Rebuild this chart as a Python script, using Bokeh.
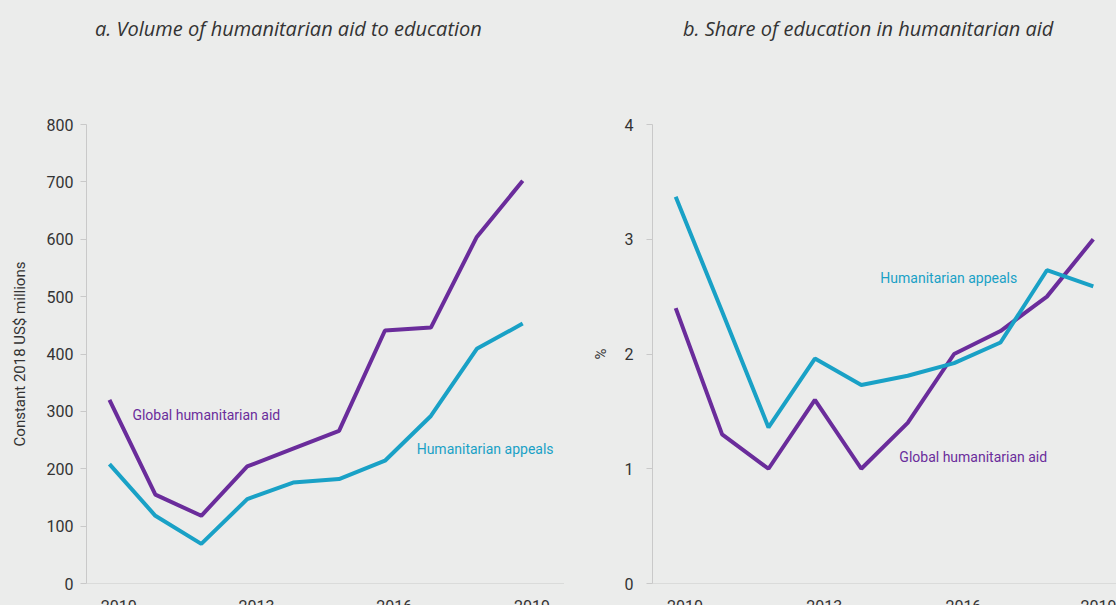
from bokeh.plotting import figure
from bokeh.layouts import row, column
from bokeh.models import Range1d, FixedTicker, Label, Div
from bokeh.embed import file_html
from bokeh.resources import INLINE

years = [2010, 2011, 2012, 2013, 2014, 2015, 2016, 2017, 2018, 2019]
vol_global = [320, 155, 118, 204, 235, 266, 441, 446, 604, 702]
vol_appeals = [208, 118, 69, 147, 176, 182, 214, 292, 409, 453]
share_global = [2.4, 1.3, 1.0, 1.6, 1.0, 1.4, 2.0, 2.2, 2.5, 3.0]
share_appeals = [3.37, 2.37, 1.36, 1.96, 1.73, 1.81, 1.92, 2.1, 2.73, 2.59]
year_ticks = [2010, 2013, 2016, 2019]
vol_ticks = [0, 100, 200, 300, 400, 500, 600, 700, 800]
share_ticks = [0, 1, 2, 3, 4]

BG = "#ebeceb"
PURPLE = "#6a2c9b"
CYAN = "#19a1c6"
AXIS = "#c9c9c9"
TXT = "#333333"
FONT = "Roboto"
TFONT = "Open Sans"
HEAD = 84
H = 605 - HEAD

def title_div(width, text, pad_left):
    html = ('<div style="padding:10px 0 0 %dpx; margin:0; font-family:\'Open Sans\'; '
            'font-style:italic; font-size:20px; line-height:27px; color:%s; '
            'white-space:nowrap;">%s</div>' % (pad_left, TXT, text))
    return Div(text=html, width=width, height=HEAD, styles={"background-color": BG})

def make(width, left, ymax, yticks, ylabel, xend, tick_standoff, label_standoff):
    p = figure(width=width, height=H, output_backend="svg", toolbar_location=None,
               x_range=Range1d(years[0] - 0.5, xend), y_range=Range1d(0, ymax),
               min_border_left=left, min_border_right=0, min_border_top=114 - HEAD,
               min_border_bottom=32)
    p.background_fill_color = BG
    p.border_fill_color = BG
    p.outline_line_color = None
    p.grid.visible = False
    p.title.visible = False
    xa = p.xaxis[0]
    # label positions shifted slightly right of the data year, as in the original
    xa.ticker = FixedTicker(ticks=[y + 0.2 for y in year_ticks])
    xa.major_label_overrides = {y + 0.2: str(y) for y in year_ticks}
    xa.major_tick_line_color = None
    xa.minor_tick_line_color = None
    xa.axis_line_color = None
    xa.major_label_text_font = FONT
    xa.major_label_text_font_size = "16px"
    xa.major_label_text_color = TXT
    xa.major_label_standoff = 10
    # baseline drawn across the year span
    p.segment(x0=[years[0] - 0.5], y0=[0], x1=[xend], y1=[0], line_color=AXIS, line_width=1)
    ya = p.yaxis[0]
    ya.ticker = FixedTicker(ticks=yticks)
    ya.major_tick_out = 6
    ya.major_tick_in = 0
    ya.major_tick_line_color = AXIS
    ya.minor_tick_line_color = None
    ya.axis_line_color = AXIS
    ya.major_label_text_font = FONT
    ya.major_label_text_font_size = "16px"
    ya.major_label_text_color = TXT
    ya.major_label_standoff = tick_standoff
    ya.axis_label = ylabel
    ya.axis_label_text_font = FONT
    ya.axis_label_text_font_style = "normal"
    ya.axis_label_text_font_size = "15px"
    ya.axis_label_text_color = TXT
    ya.axis_label_standoff = label_standoff
    return p

p1 = make(564, 86, 800, vol_ticks, "Constant 2018 US$ millions", 2019.91, 7, 15)
p1.line(years, vol_global, line_color=PURPLE, line_width=4)
p1.line(years, vol_appeals, line_color=CYAN, line_width=4)
p1.add_layout(Label(x=2010.5, y=294, text="Global humanitarian aid", text_color=PURPLE,
                    text_font=FONT, text_font_size="14px", text_baseline="middle"))
p1.add_layout(Label(x=2016.69, y=235, text="Humanitarian appeals", text_color=CYAN,
                    text_font=FONT, text_font_size="14px", text_baseline="middle"))

p2 = make(552, 88, 4, share_ticks, "%", 2019.5, 13, 12)
p2.line(years, share_global, line_color=PURPLE, line_width=4)
p2.line(years, share_appeals, line_color=CYAN, line_width=4)
p2.add_layout(Label(x=2014.41, y=2.66, text="Humanitarian appeals", text_color=CYAN,
                    text_font=FONT, text_font_size="14px", text_baseline="middle"))
p2.add_layout(Label(x=2014.82, y=1.1, text="Global humanitarian aid", text_color=PURPLE,
                    text_font=FONT, text_font_size="14px", text_baseline="middle"))

t1 = title_div(564, "a. Volume of humanitarian aid to education", 90)
t2 = title_div(552, "b. Share of education in humanitarian aid", 104)

layout = column(row(t1, t2, spacing=0), row(p1, p2, spacing=0), spacing=0,
                styles={"background-color": BG})
html = file_html(layout, INLINE)
html = html.replace("<body>", '<body style="background-color:%s">' % BG)
open("out.html", "w").write(html)
